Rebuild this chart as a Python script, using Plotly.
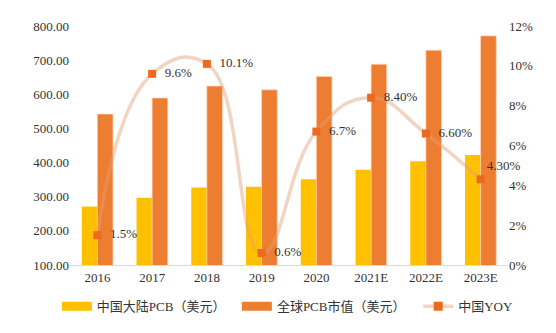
import plotly.graph_objects as go

# PCB market size (100 million USD) and China year-over-year growth
years = ["2016", "2017", "2018", "2019", "2020", "2021E", "2022E", "2023E"]
china_pcb = [271, 297, 327, 329, 351, 379, 404, 422]
global_pcb = [542, 589, 624, 613, 652, 688, 729, 771]
china_yoy = [1.5, 9.6, 10.1, 0.6, 6.7, 8.4, 6.6, 4.3]
yoy_labels = ["1.5%", "9.6%", "10.1%", "0.6%", "6.7%", "8.40%", "6.60%", "4.30%"]
yoy_label_pos = ["middle right"] * 7 + ["top right"]

left_ticks = [100, 200, 300, 400, 500, 600, 700, 800]
right_ticks = [0, 2, 4, 6, 8, 10, 12]

YELLOW = "#FFC000"
ORANGE = "#ED7D31"
MARKER = "#EB6A1E"
LINE = "rgba(226,160,120,0.45)"
TEXT = "#333333"
FONT = "Liberation Serif, Noto Sans CJK SC, serif"
PAD = "\u00a0\u00a0"

# leave a small gap between the side labels and their markers
label_templates = [
    (PAD if pos == "middle right" else "") + "%{text}" for pos in yoy_label_pos
]

fig = go.Figure()

fig.add_trace(go.Bar(
    x=years, y=china_pcb, name="中国大陆PCB（美元）",
    marker=dict(color=YELLOW, line=dict(width=0)), showlegend=False,
))
fig.add_trace(go.Bar(
    x=years, y=global_pcb, name="全球PCB市值（美元）",
    marker=dict(color=ORANGE, line=dict(color="rgba(255,210,180,0.7)", width=1)),
    showlegend=False,
))
fig.add_trace(go.Scatter(
    x=years, y=china_yoy, yaxis="y2", name="中国YOY",
    mode="lines+markers+text",
    line=dict(color=LINE, width=3.5, shape="spline", smoothing=1.3),
    marker=dict(symbol="square", size=8, color=MARKER),
    text=yoy_labels, texttemplate=label_templates, textposition=yoy_label_pos,
    textfont=dict(family=FONT, size=13, color=TEXT),
    showlegend=False, cliponaxis=False,
))

# legend entries drawn as wide swatches, one legend box each
fig.add_trace(go.Scatter(
    x=[None], y=[None], mode="lines", name="中国大陆PCB（美元）",
    line=dict(color=YELLOW, width=9), legend="legend",
))
fig.add_trace(go.Scatter(
    x=[None], y=[None], mode="lines", name="全球PCB市值（美元）",
    line=dict(color=ORANGE, width=9), legend="legend2",
))
fig.add_trace(go.Scatter(
    x=[None], y=[None], mode="lines+markers", name="中国YOY", yaxis="y2",
    line=dict(color=LINE, width=3.5),
    marker=dict(symbol="square", size=9, color=MARKER), legend="legend3",
))

legend_style = dict(
    orientation="h", xanchor="left", y=-0.11, yanchor="top", itemwidth=30,
    font=dict(family=FONT, size=13, color=TEXT), bgcolor="rgba(0,0,0,0)",
)

fig.update_layout(
    width=556, height=333,
    margin=dict(l=70, r=48, t=26, b=65),
    paper_bgcolor="white", plot_bgcolor="white",
    font=dict(family=FONT, size=13, color=TEXT),
    barmode="group", bargap=0.43, bargroupgap=0,
    xaxis=dict(
        type="category", showgrid=False, showline=True,
        linecolor="#D9D9D9", linewidth=1, ticks="",
        tickfont=dict(family=FONT, size=13, color=TEXT),
    ),
    yaxis=dict(
        range=[100, 800], tickvals=left_ticks,
        ticktext=[f"{v:.2f}" for v in left_ticks],
        showgrid=False, zeroline=False, showline=False, ticks="",
        tickfont=dict(family=FONT, size=13, color=TEXT),
    ),
    yaxis2=dict(
        overlaying="y", side="right", range=[0, 12], tickvals=right_ticks,
        ticktext=[f"{v}%" for v in right_ticks],
        showgrid=False, zeroline=False, showline=False,
        ticks="", tickfont=dict(family=FONT, size=13, color=TEXT),
    ),
    legend=dict(x=-0.03, **legend_style),
    legend2=dict(x=0.381, **legend_style),
    legend3=dict(x=0.795, **legend_style),
)

fig.write_html("out.html")
